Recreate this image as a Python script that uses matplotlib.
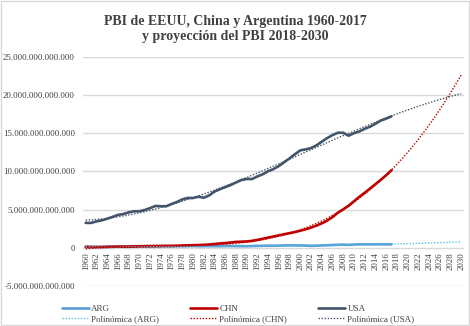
import numpy as np
import matplotlib
matplotlib.use("Agg")
import matplotlib.pyplot as plt
from matplotlib.ticker import FuncFormatter
from matplotlib.patches import Rectangle
import matplotlib.transforms as mtransforms

# ---- data (GDP, trillions of USD) ----
years_data = list(range(1960, 2018))
years_all = list(range(1960, 2031))

usa = [3.26, 3.25, 3.45, 3.59, 3.80, 4.04, 4.30, 4.41, 4.63, 4.77,
       4.78, 4.94, 5.19, 5.47, 5.44, 5.43, 5.73, 5.99, 6.33, 6.52,
       6.51, 6.68, 6.55, 6.85, 7.35, 7.66, 7.93, 8.20, 8.54, 8.86,
       9.00, 8.99, 9.34, 9.62, 10.02, 10.30, 10.70, 11.20, 11.70, 12.25,
       12.75, 12.87, 13.05, 13.40, 13.88, 14.35, 14.75, 15.05, 15.05, 14.66,
       15.00, 15.22, 15.57, 15.84, 16.23, 16.65, 16.90, 17.20]

chn = [0.128, 0.093, 0.088, 0.097, 0.115, 0.134, 0.148, 0.140, 0.134, 0.157,
       0.187, 0.200, 0.208, 0.224, 0.229, 0.249, 0.245, 0.264, 0.294, 0.317,
       0.341, 0.359, 0.391, 0.433, 0.499, 0.566, 0.617, 0.689, 0.766, 0.798,
       0.829, 0.906, 1.035, 1.179, 1.332, 1.479, 1.625, 1.775, 1.913, 2.060,
       2.235, 2.421, 2.641, 2.905, 3.199, 3.563, 4.016, 4.586, 5.031, 5.504,
       6.087, 6.67, 7.20, 7.76, 8.33, 8.90, 9.50, 10.15]

arg = [0.114, 0.120, 0.121, 0.115, 0.127, 0.141, 0.140, 0.143, 0.150, 0.165,
       0.170, 0.179, 0.182, 0.188, 0.198, 0.198, 0.194, 0.206, 0.197, 0.217,
       0.226, 0.213, 0.207, 0.215, 0.219, 0.208, 0.223, 0.229, 0.227, 0.211,
       0.206, 0.224, 0.246, 0.260, 0.275, 0.267, 0.282, 0.305, 0.317, 0.306,
       0.303, 0.290, 0.258, 0.281, 0.306, 0.334, 0.360, 0.393, 0.409, 0.385,
       0.424, 0.449, 0.445, 0.455, 0.444, 0.456, 0.446, 0.459]

poly_order = {"ARG": 3, "CHN": 3, "USA": 3}

title = "PBI de EEUU, China y Argentina 1960-2017\ny proyección del PBI 2018-2030"
y_ticks = [-5e12, 0, 5e12, 10e12, 15e12, 20e12, 25e12]

colors = {"ARG": "#5B9BD5", "CHN": "#C00000", "USA": "#44546A"}
trend_colors = {"ARG": "#4FC3DF", "CHN": "#C00000", "USA": "#44546A"}

plt.rcParams['font.family'] = ['Liberation Serif', 'DejaVu Serif']

fig = plt.figure(figsize=(4.7, 3.26), dpi=100)
ax = fig.add_axes([83/470, 40/326, 381/470, (286-56.7)/326])

x_data = np.arange(len(years_data))
x_all = np.arange(len(years_all))

series = [("ARG", arg), ("CHN", chn), ("USA", usa)]
handles = []
for name, vals in series:
    v = np.array(vals) * 1e12
    h, = ax.plot(x_data, v, color=colors[name], lw=1.9, solid_capstyle='round', zorder=3, label=name)
    coef = np.polyfit(x_data + 1, v, poly_order[name])
    tr = np.polyval(coef, x_all + 1)
    t, = ax.plot(x_all, tr, color=trend_colors[name], lw=1.0, ls=(0, (1, 1.2)), zorder=4,
                 label=f"Polinómica ({name})")
    handles += [h, t]

ax.set_xlim(-0.5, len(years_all) - 0.5)
ax.set_ylim(-5e12, 25e12)
ax.set_yticks(y_ticks)
ax.yaxis.set_major_formatter(FuncFormatter(lambda v, p: f"{int(round(v)):,}".replace(",", ".")))
ax.tick_params(axis='y', length=0, pad=5.8, labelsize=6.4, colors='#404040')
ax.set_xticks([])
ax.grid(axis='y', color='#D9D9D9', lw=1.0)
ax.set_axisbelow(True)
for s in ax.spines.values():
    s.set_visible(False)

# category labels along the zero line
offset = mtransforms.offset_copy(ax.transData, fig=fig, x=0, y=-3, units='points')
for i, yr in enumerate(years_all):
    if (yr - 1960) % 2 == 0:
        ax.text(i, 0, str(yr), rotation=90, ha='center', va='top', fontsize=6.3,
                color='#404040', transform=offset)

fig.text(0.5, (326 - 29) / 326, title, ha='center', va='center', fontsize=10,
         fontweight='bold', color='#404040', linespacing=1.15)

fig.legend(handles=handles, loc='upper left', bbox_to_anchor=(62/470, 1 - 305/326),
           ncol=3, frameon=False, fontsize=6.5, handlelength=3.0, handletextpad=0.25,
           columnspacing=3.4, labelspacing=0.2, borderpad=0, borderaxespad=0,
           labelcolor='#404040')

fig.add_artist(Rectangle((0.002, 0.003), 0.996, 0.994, transform=fig.transFigure,
                         fill=False, edgecolor='#D9D9D9', lw=1.0))

fig.savefig("out.png", dpi=100, facecolor='white')
